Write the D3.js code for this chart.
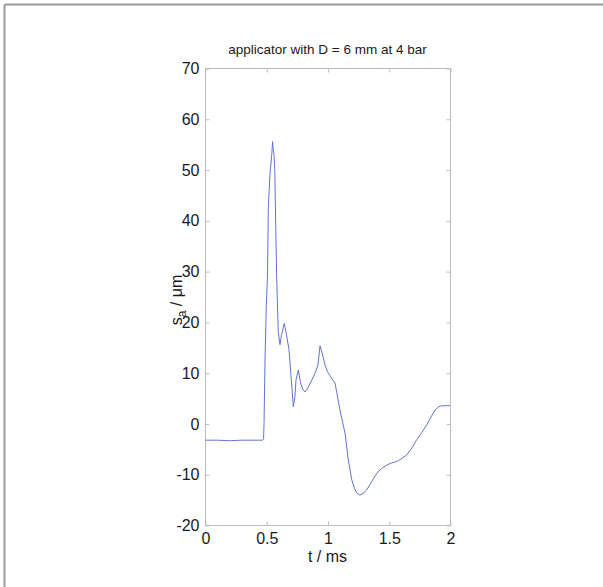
<!DOCTYPE html>
<html>
<head>
<meta charset="utf-8">
<script src="https://cdn.jsdelivr.net/npm/d3@7"></script>
<style>
  html, body { margin: 0; padding: 0; background: #fff; }
  svg { display: block; }
  text { font-family: "Liberation Sans", Arial, sans-serif; fill: #1a1a1a; }
</style>
</head>
<body>
<svg id="chart" width="603" height="587"></svg>
<script>
// ---- data ----
const title = "applicator with D = 6 mm at 4 bar";
const xTicks = [0, 0.5, 1, 1.5, 2];
const xTickLabels = ["0", "0.5", "1", "1.5", "2"];
const yTicks = [-20, -10, 0, 10, 20, 30, 40, 50, 60, 70];
const yTickLabels = ["-20", "-10", "0", "10", "20", "30", "40", "50", "60", "70"];
const tMs = [0, 0.1, 0.2, 0.3, 0.4, 0.47, 0.478, 0.482, 0.49, 0.5, 0.51, 0.517, 0.53, 0.545, 0.552, 0.557, 0.563, 0.57, 0.578, 0.585,
  0.598, 0.612, 0.625, 0.647, 0.665, 0.686, 0.702, 0.721, 0.733, 0.743, 0.762, 0.78, 0.8, 0.816, 0.84, 0.873, 0.9, 0.922, 0.939, 0.96,
  0.98, 1.0, 1.03, 1.061, 1.08, 1.102, 1.143, 1.17, 1.198, 1.22, 1.238, 1.265, 1.29, 1.32, 1.36, 1.402, 1.44, 1.483, 1.52, 1.565,
  1.6, 1.647, 1.69, 1.728, 1.77, 1.81, 1.85, 1.878, 1.91, 1.932, 1.96, 2.0];
const saUm = [-3.3, -3.3, -3.4, -3.3, -3.3, -3.3, -3.0, 0, 12.5, 23, 29, 42.7, 49, 53, 55.5, 54, 53, 49.6, 38, 29,
  18, 15.5, 17.5, 19.7, 17.5, 14.5, 9.5, 3.3, 5, 8.6, 10.5, 8, 6.6, 6.2, 7, 8.6, 10, 11.5, 15.3, 13.5,
  11.5, 10.2, 9, 8, 5.5, 2.6, -1.9, -7.2, -11.1, -12.8, -13.7, -14.1, -13.8, -13.1, -11.5, -9.8, -8.9, -8.2, -7.8, -7.5,
  -7, -6.2, -4.8, -3.2, -1.8, -0.3, 1.5, 2.66, 3.3, 3.5, 3.5, 3.5];

// ---- layout ----
const svg = d3.select("#chart");
const W = 603, H = 587;
const L = 205, R = 450, T = 68, B = 525;

svg.append("rect").attr("width", W).attr("height", H).attr("fill", "#fff");
// page frame (top and left edges only, as in the reference)
svg.append("line").attr("x1", 4.5).attr("x2", W).attr("y1", 4.5).attr("y2", 4.5)
  .attr("stroke", "#999").attr("stroke-width", 2);
svg.append("line").attr("x1", 4.5).attr("x2", 4.5).attr("y1", 4.5).attr("y2", H)
  .attr("stroke", "#999").attr("stroke-width", 2);

const x = d3.scaleLinear().domain([0, 2]).range([L, R]);
const y = d3.scaleLinear().domain([-20, 70]).range([B, T]);

const axisColor = "#bdbdbd";
const tickLen = 4;

// box
svg.append("rect").attr("x", L + 0.5).attr("y", T + 0.5).attr("width", R - L).attr("height", B - T)
  .attr("fill", "none").attr("stroke", axisColor).attr("stroke-width", 1);

// bottom axis (ticks inside)
const xAxisB = d3.axisBottom(x).tickValues(xTicks).tickSize(-tickLen).tickPadding(7)
  .tickFormat((d, i) => xTickLabels[i]);
const gxb = svg.append("g").attr("transform", `translate(0.5,${B + 0.5})`).call(xAxisB);
gxb.select(".domain").remove();
gxb.selectAll(".tick line").attr("stroke", axisColor);
gxb.selectAll(".tick text").attr("font-size", 16).attr("fill", "#1a1a1a")
  .attr("font-family", "Liberation Sans, Arial, sans-serif");

// top axis ticks
const xAxisT = d3.axisTop(x).tickValues(xTicks).tickSize(-tickLen).tickFormat("");
const gxt = svg.append("g").attr("transform", `translate(0.5,${T + 0.5})`).call(xAxisT);
gxt.select(".domain").remove();
gxt.selectAll(".tick line").attr("stroke", axisColor);

// left axis
const yAxisL = d3.axisLeft(y).tickValues(yTicks).tickSize(-tickLen).tickPadding(6)
  .tickFormat((d, i) => yTickLabels[i]);
const gyl = svg.append("g").attr("transform", `translate(${L + 0.5},0.5)`).call(yAxisL);
gyl.select(".domain").remove();
gyl.selectAll(".tick line").attr("stroke", axisColor);
gyl.selectAll(".tick text").attr("font-size", 16).attr("fill", "#1a1a1a")
  .attr("font-family", "Liberation Sans, Arial, sans-serif");

// right axis ticks
const yAxisR = d3.axisRight(y).tickValues(yTicks).tickSize(-tickLen).tickFormat("");
const gyr = svg.append("g").attr("transform", `translate(${R + 0.5},0.5)`).call(yAxisR);
gyr.select(".domain").remove();
gyr.selectAll(".tick line").attr("stroke", axisColor);

// data line
const pts = tMs.map((t, i) => [t, saUm[i]]);
const line = d3.line().x(d => x(d[0])).y(d => y(d[1]));
svg.append("path").datum(pts).attr("d", line)
  .attr("fill", "none").attr("stroke", "#6474d4").attr("stroke-width", 1)
  .attr("stroke-linejoin", "round");

// title
svg.append("text").attr("x", (L + R) / 2).attr("y", 54).attr("text-anchor", "middle")
  .attr("font-size", 13.5).text(title);

// x label
svg.append("text").attr("x", (L + R) / 2).attr("y", 562).attr("text-anchor", "middle")
  .attr("font-size", 16).text("t / ms");

// y label with subscript
const yl = svg.append("text").attr("transform", `translate(182,300) rotate(-90)`)
  .attr("text-anchor", "middle").attr("font-size", 16);
yl.append("tspan").text("s");
yl.append("tspan").attr("baseline-shift", "-30%").attr("font-size", 12).text("a");
yl.append("tspan").text(" / μm");
</script>
</body>
</html>
